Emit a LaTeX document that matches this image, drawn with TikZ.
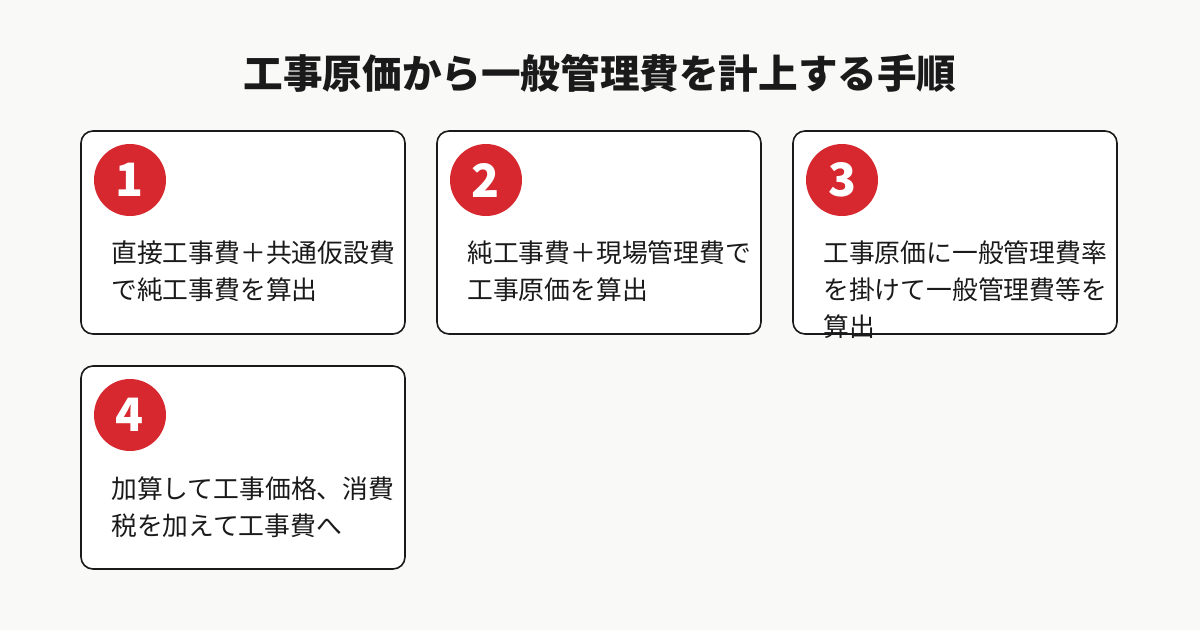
\documentclass[tikz,border=0pt]{standalone}
\usepackage{fontspec}
\setmainfont{Noto Sans CJK JP}
\definecolor{bg}{HTML}{F9F9F7}
\definecolor{red}{HTML}{D7282F}
\definecolor{ink}{HTML}{1A1A1A}
\tikzset{card/.style={draw=ink,line width=1.6pt,fill=white,rounded corners=12pt},
num/.style={circle,fill=red,minimum size=72pt,inner sep=0pt,text=white,font=\fontsize{46}{46}\selectfont\bfseries},
body/.style={anchor=west,font=\fontsize{25.8}{37}\selectfont,text=ink,align=left,inner sep=0pt}}
\begin{document}
\begin{tikzpicture}[x=1pt,y=-1pt]
\fill[bg] (0,0) rectangle (1200,630);
\useasboundingbox (0,0) rectangle (1200,630);
\node[font=\fontsize{39.6}{40}\selectfont\bfseries,text=ink] (title) at (600,73) {工事原価から一般管理費を計上する手順};
\draw[card] (81,131) rectangle (405,334);
\draw[card] (437,131) rectangle (761,334);
\draw[card] (793,131) rectangle (1117,334);
\draw[card] (81,366) rectangle (405,569);
\node[num] (n1) at (130,180) {1};
\node[num] (n2) at (486,180) {2};
\node[num] (n3) at (842,180) {3};
\node[num] (n4) at (130,415) {4};
\node[body] (t1) at (111,253) {直接工事費＋共通仮設費};
\node[body] (t1b) at (111,290) {で純工事費を算出};
\node[body] (t2) at (467,253) {純工事費＋現場管理費で};
\node[body] (t2b) at (467,290) {工事原価を算出};
\node[body] (t3) at (823,253) {工事原価に一般管理費率};
\node[body] (t3b) at (823,290) {を掛けて一般管理費等を};
\node[body] (t3c) at (823,327) {算出};
\node[body] (t4) at (111,489) {加算して工事価格、消費};
\node[body] (t4b) at (111,526) {税を加えて工事費へ};
\end{tikzpicture}
\end{document}
